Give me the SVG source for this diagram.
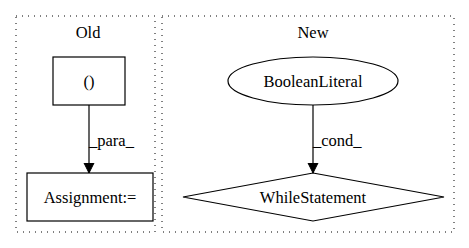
<svg xmlns="http://www.w3.org/2000/svg" width="469" height="248" viewBox="0 0 469 248">
  <style>
    text { font-family: "Liberation Serif", "Times New Roman", serif; font-size: 16.5px; fill: #000; }
    .cluster { fill: none; stroke: #000; stroke-width: 1; stroke-dasharray: 1 5; }
    .node { fill: none; stroke: #000; stroke-width: 1.2; }
    .edge { fill: none; stroke: #000; stroke-width: 1.2; }
  </style>
  <defs>
    <marker id="arrow" viewBox="0 0 10 12" refX="10" refY="6" markerWidth="10" markerHeight="12" markerUnits="userSpaceOnUse" orient="auto">
      <path d="M0,1 L10,6 L0,11 Z" fill="#000" stroke="#000"/>
    </marker>
  </defs>
  <rect width="469" height="248" fill="#fff"/>

  <g id="cluster_old">
    <rect class="cluster" x="16" y="16" width="139" height="216"/>
    <text x="88" y="38" text-anchor="middle">Old</text>
  </g>
  <g id="cluster_new">
    <rect class="cluster" x="162" y="16" width="292" height="216"/>
    <text x="313" y="38" text-anchor="middle">New</text>
  </g>

  <g id="node_paren">
    <rect class="node" x="53" y="57" width="72" height="48"/>
    <text x="89" y="87" text-anchor="middle">()</text>
  </g>
  <g id="node_assignment">
    <rect class="node" x="27" y="173" width="126" height="48"/>
    <text x="90" y="203" text-anchor="middle">Assignment:=</text>
  </g>
  <g id="node_boolean">
    <ellipse class="node" cx="313" cy="81" rx="85" ry="24"/>
    <text x="313" y="87" text-anchor="middle">BooleanLiteral</text>
  </g>
  <g id="node_while">
    <polygon class="node" points="313,173 444,197 313,221 183,197"/>
    <text x="313" y="203" text-anchor="middle">WhileStatement</text>
  </g>

  <g id="connectors">
    <line class="edge" x1="89" y1="105" x2="89" y2="173" marker-end="url(#arrow)"/>
    <text x="89" y="146">_para_</text>
    <line class="edge" x1="313" y1="105" x2="313" y2="173" marker-end="url(#arrow)"/>
    <text x="313" y="146">_cond_</text>
  </g>
</svg>
